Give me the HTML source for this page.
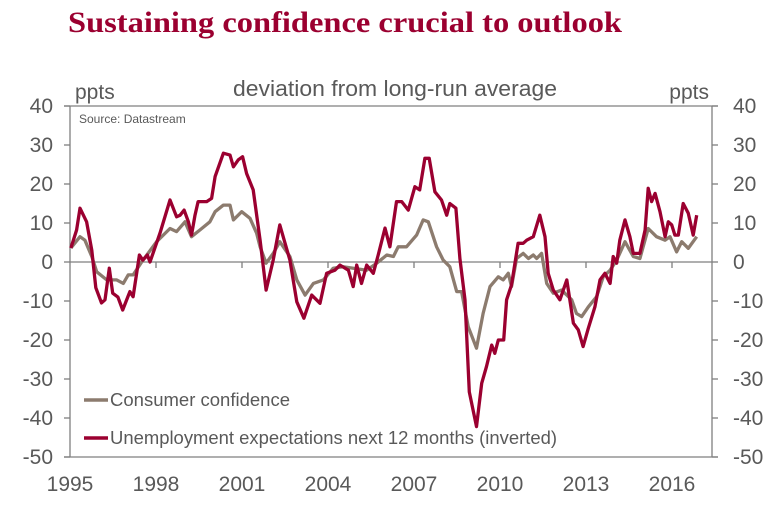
<!DOCTYPE html>
<html><head><meta charset="utf-8"><style>
html,body{margin:0;padding:0;background:#fff;}
svg{display:block;}
text{font-family:"Liberation Sans",Arial,sans-serif;fill:#595959;}
</style></head><body>
<svg id="chart" width="781" height="506" viewBox="0 0 781 506">
<text x="68" y="32" style="font-family:'Liberation Serif',serif;font-weight:bold;font-size:30px;fill:#9b0030" textLength="554" lengthAdjust="spacingAndGlyphs">Sustaining confidence crucial to outlook</text>
<text x="75" y="99" font-size="21">ppts</text>
<text x="233" y="96" font-size="22" textLength="324" lengthAdjust="spacingAndGlyphs">deviation from long-run average</text>
<text x="709" y="99" font-size="21" text-anchor="end">ppts</text>
<text x="79" y="123" font-size="12">Source: Datastream</text>
<g id="axes"></g>
<g id="series"></g>
<g>
<line x1="84" y1="400" x2="108" y2="400" stroke="#8c7b6e" stroke-width="3.5"/>
<text x="110" y="406" font-size="18" textLength="180" lengthAdjust="spacingAndGlyphs">Consumer confidence</text>
<line x1="84" y1="438" x2="108" y2="438" stroke="#9b0030" stroke-width="3.5"/>
<text x="110" y="444" font-size="18" textLength="447" lengthAdjust="spacingAndGlyphs">Unemployment expectations next 12 months (inverted)</text>
</g>
</svg>
<script>
const yTicks=[40,30,20,10,0,-10,-20,-30,-40,-50];
const xTickYears=[1995,1998,2001,2004,2007,2010,2013,2016];
const ccYears=[1995.03,1995.35,1995.52,1995.76,1995.93,1996.28,1996.63,1996.86,1997.03,1997.2,1997.5,1998.02,1998.49,1998.72,1999.01,1999.24,1999.53,1999.88,2000.06,2000.35,2000.58,2000.7,2000.99,2001.28,2001.51,2001.63,2001.84,2002.09,2002.32,2002.67,2002.91,2003.2,2003.49,2003.84,2004.18,2004.53,2004.88,2005.35,2005.7,2006.05,2006.28,2006.45,2006.74,2007.09,2007.32,2007.5,2007.79,2008.02,2008.25,2008.49,2008.66,2008.89,2009.18,2009.41,2009.65,2009.94,2010.11,2010.29,2010.4,2010.58,2010.81,2010.99,2011.16,2011.28,2011.45,2011.63,2011.86,2012.15,2012.5,2012.67,2012.85,2013.08,2013.37,2013.6,2013.84,2014.07,2014.36,2014.65,2014.88,2015.17,2015.46,2015.76,2015.93,2016.16,2016.34,2016.57,2016.86];
const ccValues=[3.6,6.5,5.6,1.4,-2.5,-4.6,-4.6,-5.5,-3.3,-3.3,0,5.2,8.6,7.8,10.3,6.5,8.2,10.3,12.9,14.6,14.6,10.8,12.9,11.2,7.4,3.9,-0.3,2.2,5.2,1.4,-4.6,-8.5,-5.5,-4.6,-1.6,-1.2,-1.6,-2.1,-0.3,1.8,1.4,3.9,3.9,6.9,10.8,10.3,3.9,0.5,-1.2,-7.6,-7.6,-16.6,-22.1,-13.2,-6.3,-3.8,-4.6,-2.9,-6.3,0.9,2.2,0.9,1.8,0.9,2.2,-5.5,-8,-7.2,-9.7,-13.2,-14,-11.5,-8.9,-3.8,-2.1,0.5,5.2,1.4,0.9,8.6,6.5,5.6,6.5,2.6,5.2,3.5,6.5];
const ueYears=[1995.03,1995.23,1995.35,1995.58,1995.76,1995.9,1996.1,1996.22,1996.37,1996.49,1996.67,1996.84,1997.09,1997.2,1997.42,1997.54,1997.7,1997.79,1998.14,1998.49,1998.72,1998.84,1998.98,1999.13,1999.24,1999.36,1999.47,1999.77,1999.94,2000.06,2000.35,2000.58,2000.7,2000.87,2001.02,2001.16,2001.39,2001.63,2001.84,2002.09,2002.32,2002.67,2002.91,2003.16,2003.43,2003.72,2003.95,2004.24,2004.42,2004.71,2004.88,2005.0,2005.17,2005.35,2005.58,2005.75,2005.99,2006.16,2006.39,2006.57,2006.8,2007.03,2007.2,2007.38,2007.53,2007.73,2007.96,2008.14,2008.25,2008.46,2008.6,2008.78,2008.93,2009.18,2009.36,2009.53,2009.71,2009.82,2009.94,2010.13,2010.23,2010.4,2010.63,2010.81,2010.93,2011.16,2011.39,2011.57,2011.68,2011.86,2012.09,2012.33,2012.56,2012.73,2012.9,2013.08,2013.31,2013.49,2013.66,2013.84,2013.95,2014.07,2014.18,2014.36,2014.53,2014.65,2014.88,2015.06,2015.17,2015.29,2015.41,2015.58,2015.76,2015.87,2015.99,2016.1,2016.22,2016.39,2016.57,2016.74,2016.86];
const ueValues=[3.6,8.2,13.8,10.3,3,-6.6,-10.5,-9.7,-1.6,-8,-9,-12.3,-7.6,-8.9,1.8,0.5,1.8,0,7.4,15.9,11.6,12,13.3,10.3,6.9,12,15.5,15.5,16.3,21.9,27.9,27.4,24.4,26.2,27,22.7,18.5,5.6,-7.2,0.5,9.5,0.5,-10.2,-14.4,-8.5,-10.6,-2.9,-2.1,-0.8,-2.1,-6.3,-0.8,-5.5,-0.8,-2.9,1.8,8.7,3.9,15.5,15.5,13.3,19.3,18.5,26.6,26.6,18,15.9,12,15,13.8,0.9,-9.7,-33.3,-42.2,-31.1,-26.8,-21.3,-23.4,-20,-20,-9.7,-5.9,4.8,4.8,5.6,6.5,12,6.5,-2.9,-7.2,-9.7,-4.6,-15.7,-17.4,-21.7,-17,-11.5,-4.6,-2.9,-5.5,1.4,-0.3,5.6,10.8,6.5,2.2,2.2,8.2,18.9,15.5,17.6,12.9,6.5,10.3,9.5,6.9,6.9,15,12.5,6.9,12];

const NS='http://www.w3.org/2000/svg';
const X0=70,X1=712,YT=106,YB=457;
function xs(yr){return X0+(yr-1995)*(86/3);}
function ys(v){return 262-v*3.9;}
function mk(tag,attrs,parent){const e=document.createElementNS(NS,tag);for(const k in attrs)e.setAttribute(k,attrs[k]);parent.appendChild(e);return e;}
const axes=document.getElementById('axes');
const ac='#7f7f7f';
let e;
e=mk('line',{x1:64,y1:YT,x2:718,y2:YT,stroke:ac,'stroke-width':1.3},axes);


e=mk('line',{x1:X0,y1:YT,x2:X0,y2:YB,stroke:ac,'stroke-width':1.3},axes);


e=mk('line',{x1:X1,y1:YT,x2:X1,y2:YB,stroke:ac,'stroke-width':1.3},axes);


e=mk('line',{x1:64,y1:YB,x2:718,y2:YB,stroke:ac,'stroke-width':1.3},axes);


e=mk('line',{x1:X0,y1:ys(0),x2:X1,y2:ys(0),stroke:ac,'stroke-width':1.3},axes);


yTicks.forEach(v=>{
  const y=ys(v);
  let t=mk('line',{x1:64,y1:y,x2:X0,y2:y,stroke:ac,'stroke-width':1.3},axes);
  
  
  t=mk('line',{x1:X1,y1:y,x2:718,y2:y,stroke:ac,'stroke-width':1.3},axes);
  
  
  let l=mk('text',{x:53,y:y+7,'font-size':21,'text-anchor':'end'},axes);l.textContent=v;
  
  
  l=mk('text',{x:733,y:y+7,'font-size':21,'text-anchor':'start'},axes);l.textContent=v;
  
  
});
xTickYears.forEach(yr=>{
  const x=xs(yr);
  if(yr>1995){let t=mk('line',{x1:x,y1:ys(0),x2:x,y2:ys(0)+6,stroke:ac,'stroke-width':1.3},axes);
  
  }
  const l=mk('text',{x:x,y:491,'font-size':21,'text-anchor':'middle'},axes);l.textContent=yr;
  
  
});
const ser=document.getElementById('series');
function path(yrs,vals){return yrs.map((y,i)=>(i?'L':'M')+xs(y).toFixed(1)+','+ys(vals[i]).toFixed(1)).join('');}
e=mk('path',{d:path(ccYears,ccValues),fill:'none',stroke:'#8c7b6e','stroke-width':3.3,'stroke-linejoin':'round'},ser);


e=mk('path',{d:path(ueYears,ueValues),fill:'none',stroke:'#9b0030','stroke-width':3.3,'stroke-linejoin':'round'},ser);


</script>
</body></html>
